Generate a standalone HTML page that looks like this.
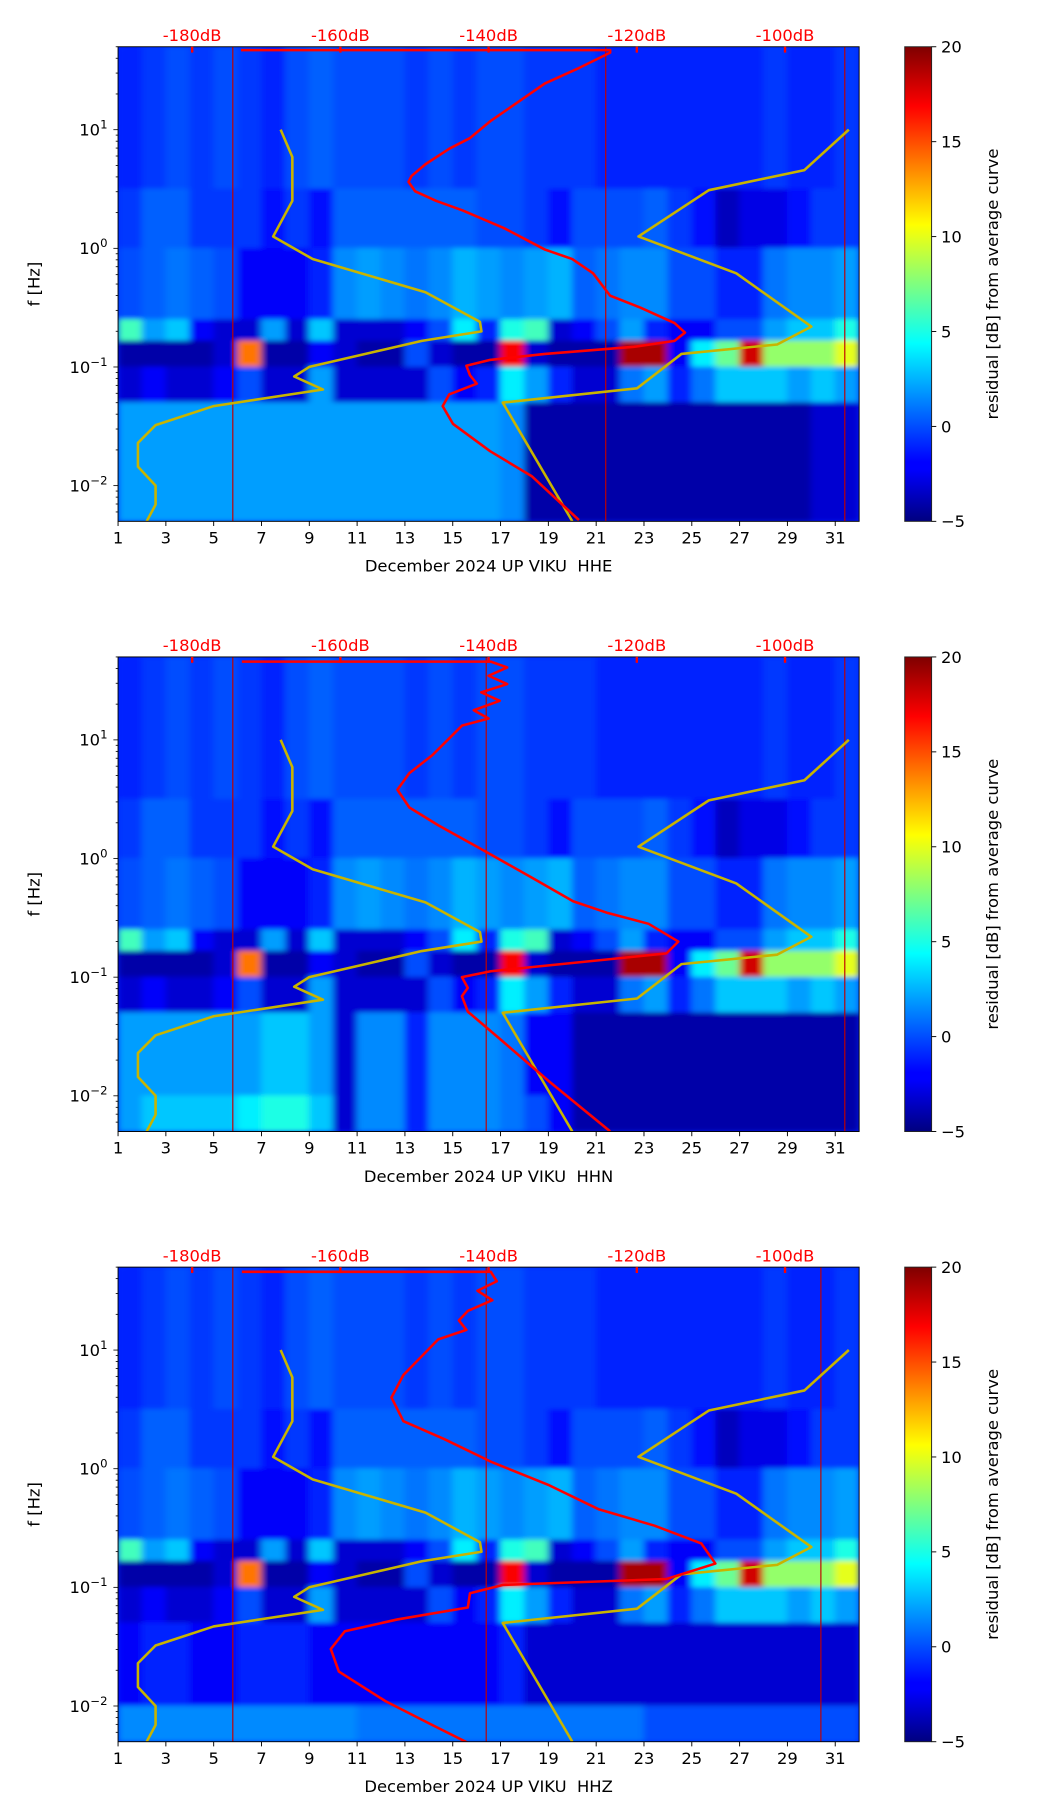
<!DOCTYPE html>
<html><head><meta charset="utf-8"><style>
html,body{margin:0;padding:0;background:#fff}
svg{display:block}
text{font-family:"DejaVu Sans","Liberation Sans",sans-serif}
</style></head><body>
<svg id="fig" xmlns="http://www.w3.org/2000/svg" width="1052" height="1806" viewBox="0 0 900 1545" preserveAspectRatio="none">
<defs>
<linearGradient id="jet" x1="0" y1="1" x2="0" y2="0">
<stop offset="0" stop-color="#00007f"/><stop offset="0.11" stop-color="#0000ff"/><stop offset="0.125" stop-color="#0000ff"/>
<stop offset="0.375" stop-color="#00ffff"/><stop offset="0.5" stop-color="#7fff7f"/><stop offset="0.625" stop-color="#ffff00"/>
<stop offset="0.875" stop-color="#ff0000"/><stop offset="1" stop-color="#7f0000"/>
</linearGradient>
<filter id="blur" x="-5%" y="-5%" width="110%" height="110%"><feGaussianBlur stdDeviation="3 2"/></filter>
</defs>
</svg>
<script>
// ---- data ----
const days = [1,3,5,7,9,11,13,15,17,19,21,23,25,27,29,31];
const dbTicks = [-180,-160,-140,-120,-100];
const cbTicks = [-5,0,5,10,15,20];
const yTickExp = [1,0,-1,-2];
const bandEdges = [1.699,0.5,0,-0.6,-0.78,-1.0,-1.3,-2.0,-2.301];
const stations = ["HHE","HHN","HHZ"];
const band0 = [-1,-0.5,0,-0.5,0,-0.5,-1,0,0.5,0,0,0,-0.5,0,-0.5,0,0,-0.5,-0.5,-0.5,-1,-1,-1,-1,-1,-1,-1,-0.5,-1,-1,-0.5];
const band1 = [-0.5,0.5,0.5,-0.5,-0.5,-0.5,-1.5,-0.5,-1.5,0.5,0.5,0.5,0.5,0.5,0.5,0,0,-0.5,-1.5,0,0,0,0.5,-0.5,-1.5,-3.5,-2.5,-2.5,-1.5,-0.5,-0.5];
const band2 = [0,0.5,1,0.5,0,-2,-2,-2,-1,1.5,2,1.5,1,1.5,2.5,2,1.5,2,2.5,0.5,1,1.5,1.5,0,0,-1,-1,1,1.5,1.5,2];
const band3 = [6,2,3,-2,-3,-3,2,-3,3,-3,-3,-3,-2,0,4,-1,5,6,-3,-2,0,2,-1,-2,-2,0,0,2,3,3,5];
const band4 = [-4,-4,-4,-4,-3,14,-4,-4,-2,-3,-4,-4,0,-3,-4,-4,17,-3,-4,-4,-4,19,19,-2,4,7,18,8,8,8,10];
const band5 = [-3,-2,-3,-3,-2,0,-3,-3,2,-3,-3,-3,-3,0,-2,-1,4,2,-1,-3,-3,1,2,-1,1,3,3,3,2,3,2];
const p1band6 = [2,2,2,2,2,2,2,2,2,2,2,2,2,2,2,2,1.5,-4,-4,-4,-4,-4,-4,-4,-4,-4,-4,-4,-4,-3,-3];
const p1band7 = [2,2,2,2,2,2,2,2,2,2,2,2,2,2,2,2,1.5,-4,-4,-4,-4,-4,-4,-4,-4,-4,-4,-4,-4,-3,-3];
const p2band6 = [2,2,2,2,2,2,3,3,2,-3,1.5,1.5,-1,1.5,1.5,1.5,1,-2,-2,-4,-4,-4,-4,-4,-4,-4,-4,-4,-4,-4,-4];
const p2band7 = [2,3,3,3,3,4,5,5,3,-3,1.5,1.5,-1,1.5,1.5,1.5,1,0,-2,-4,-4,-4,-4,-4,-4,-4,-4,-4,-4,-4,-4];
const p3band6 = [-2,-1,-1,-2,-2,-1,-1,-1,-2,-2,-2,-2,-2,-2,-2,-2,-1,-3,-3,-3,-3,-3,-3,-3,-3,-3,-3,-3,-3,-3,-3];
const p3band7 = [1.5,1.5,1.5,1.5,1.5,1.5,1.5,1.5,1.5,1.5,1,1,1,1,1,1,1,1,1,1,1,1,0,0,0,0,0,0,0,0,0];
// yellow curve (day, log10 f)
const yelLeftDay = [2.2,2.57,2.57,1.83,1.83,2.57,5.0,9.57,8.37,9.0,13.71,16.2,16.14,13.86,9.14,7.49,8.29,8.29,7.8];
const yelLeftLf  = [-2.3,-2.16,-2.0,-1.84,-1.64,-1.49,-1.33,-1.19,-1.08,-1.0,-0.78,-0.7,-0.62,-0.37,-0.09,0.1,0.4,0.77,1.0];
const yelRightDay = [20.0,17.09,22.71,24.57,28.57,30.0,26.86,22.77,25.71,29.71,31.57];
const yelRightLf  = [-2.3,-1.3,-1.18,-0.89,-0.81,-0.66,-0.21,0.1,0.49,0.66,1.0];
// red curves (dB, log10 f)
const red1Db = [-173.4,-123.6,-123.6,-127.8,-132.4,-136.1,-139.8,-142.5,-145.3,-148.5,-150.4,-150.8,-149.9,-147.1,-143.5,-137.9,-132.4,-128.7,-125.9,-123.6,-119.5,-114.9,-113.5,-114.9,-120.4,-132.4,-139.8,-143.0,-142.5,-141.6,-145.3,-146.2,-144.8,-139.8,-134.2,-127.8];
const red1Lf = [1.67,1.67,1.65,1.52,1.39,1.23,1.07,0.93,0.84,0.71,0.61,0.56,0.48,0.4,0.32,0.17,-0.01,-0.09,-0.21,-0.4,-0.5,-0.63,-0.71,-0.78,-0.83,-0.89,-0.94,-0.99,-1.07,-1.14,-1.23,-1.33,-1.48,-1.71,-1.92,-2.29];
const red2Db = [-173.3,-139.7,-137.5,-140,-137.5,-141,-138.5,-142,-140,-143.6,-147.6,-150.7,-152.3,-150.7,-146.8,-141.3,-134.2,-128.6,-123.9,-118.4,-114.4,-116.0,-123.9,-139.7,-143.6,-142.8,-143.6,-142.8,-138.1,-131.8,-123.6];
const red2Lf = [1.66,1.66,1.61,1.54,1.47,1.40,1.33,1.25,1.18,1.12,0.87,0.72,0.58,0.43,0.28,0.09,-0.16,-0.36,-0.46,-0.55,-0.70,-0.80,-0.85,-0.95,-1.0,-1.09,-1.16,-1.29,-1.54,-1.88,-2.3];
const red3Db = [-173.3,-139.7,-138.9,-141.5,-139.5,-142.8,-144,-143,-146.8,-151.5,-153.1,-151.5,-146.0,-139.7,-131.8,-125.2,-117.6,-111.3,-109.4,-116.0,-138.1,-142.5,-142.8,-152.3,-159.4,-161.3,-160.2,-153.9,-147.6,-142.8];
const red3Lf = [1.66,1.66,1.58,1.5,1.42,1.33,1.25,1.17,1.09,0.79,0.6,0.4,0.25,0.06,-0.14,-0.34,-0.48,-0.63,-0.8,-0.93,-0.98,-1.05,-1.17,-1.27,-1.37,-1.52,-1.71,-1.96,-2.16,-2.31];
const redLineDays = [[5.8,21.4,31.4],[5.8,16.4,31.4],[5.8,16.4,30.4]];

// ---- drawing ----
const NS="http://www.w3.org/2000/svg";
const svg=document.getElementById('fig');
const X0=101, X1=735, H=406, tops=[40,562,1084];
const xDay=d=>X0+(d-1)/31*(X1-X0);
const xDb=db=>X0+(db+190)/100*(X1-X0);
const yF=(top,lf)=>top+(1.699-lf)/4*H;
function jet(v){const t=Math.max(0,Math.min(1,(v+5)/25));const c=x=>Math.round(255*Math.max(0,Math.min(1,1.5-Math.abs(4*t-x))));return `rgb(${c(3)},${c(2)},${c(1)})`;}
function mk(tag,attrs,parent){const e=document.createElementNS(NS,tag);for(const k in attrs)e.setAttribute(k,attrs[k]);(parent||svg).appendChild(e);return e;}
function txt(x,y,s,attrs,parent){const t=mk('text',Object.assign({x:x,y:y,'font-size':14},attrs||{}),parent);t.textContent=s;return t;}

const panelBands=[
 [band0,band1,band2,band3,band4,band5,p1band6,p1band7],
 [band0,band1,band2,band3,band4,band5,p2band6,p2band7],
 [band0,band1,band2,band3,band4,band5,p3band6,p3band7]];
const reds=[[red1Db,red1Lf],[red2Db,red2Lf],[red3Db,red3Lf]];

tops.forEach((top,p)=>{
  const g=mk('g',{});
  
  
  const cid='clip'+p;
  const cp=mk('clipPath',{id:cid},g);mk('rect',{x:X0,y:top,width:X1-X0,height:H},cp);
  const hm=mk('g',{'clip-path':`url(#${cid})`},g);
  mk('rect',{x:X0,y:top,width:X1-X0,height:H,fill:jet(-1)},hm);
  const hb=mk('g',{filter:'url(#blur)'},hm);
  
  
  panelBands[p].forEach((row,b)=>{
    const ya=yF(top,bandEdges[b]), yb=yF(top,bandEdges[b+1]);
    row.forEach((v,d)=>{
      const r=mk('rect',{x:xDay(d+1)-0.3,y:ya-0.3,width:xDay(d+2)-xDay(d+1)+0.6,height:yb-ya+0.6,fill:jet(v)},hb);
      
      
    });
  });
  redLineDays[p].forEach(d=>{
    const l=mk('line',{x1:xDay(d),x2:xDay(d),y1:top,y2:top+H,stroke:'#c00000','stroke-width':1},hm);
    
    
  });
  [[yelLeftDay,yelLeftLf],[yelRightDay,yelRightLf]].forEach(([ds,ls],k)=>{
    const pts=ds.map((d,i)=>xDay(d).toFixed(1)+','+yF(top,ls[i]).toFixed(1)).join(' ');
    const pl=mk('polyline',{points:pts,fill:'none',stroke:'#c8b400','stroke-width':2.2,'stroke-linejoin':'round'},hm);
    
    
  });
  const [rd,rl]=reds[p];
  const rp=mk('polyline',{points:rd.map((v,i)=>xDb(v).toFixed(1)+','+yF(top,rl[i]).toFixed(1)).join(' '),fill:'none',stroke:'#ff0000','stroke-width':2.2,'stroke-linejoin':'round'},hm);
  
  
  mk('rect',{x:X0,y:top,width:X1-X0,height:H,fill:'none',stroke:'#000','stroke-width':0.8},g);
  days.forEach(d=>{
    const x=xDay(d);
    mk('line',{x1:x,x2:x,y1:top+H,y2:top+H+4,stroke:'#000','stroke-width':0.8},g);
    const t=txt(x,top+H+19,String(d),{'text-anchor':'middle'},g);
    
    
  });
  const xl=txt((X0+X1)/2,top+H+43,'December 2024 UP VIKU\u00a0\u00a0'+stations[p],{'text-anchor':'middle'},g);
  
  
  dbTicks.forEach(db=>{
    const x=xDb(db);
    mk('line',{x1:x,x2:x,y1:top,y2:top+5,stroke:'#ff0000','stroke-width':2},g);
    const t=txt(x,top-5,db+'dB',{'text-anchor':'middle',fill:'#ff0000'},g);
    
    
  });
  for(let e=-3;e<=1;e++){for(let m=1;m<10;m++){const lf=e+Math.log10(m);if(lf<-2.301||lf>1.699)continue;const y=yF(top,lf);mk('line',{x1:X0-(m===1?4:2),x2:X0,y1:y,y2:y,stroke:'#000','stroke-width':0.7},g);}}
  yTickExp.forEach(e=>{
    const y=yF(top,e);
    const t=mk('text',{x:92,y:y+5,'font-size':14,'text-anchor':'end'},g);
    
    
    const a=mk('tspan',{},t);a.textContent='10';
    const b=mk('tspan',{dy:-6,'font-size':10},t);b.textContent=(e<0?'\u2212':'')+Math.abs(e);
  });
  const yl=txt(0,0,'f [Hz]',{'text-anchor':'middle',transform:`translate(34,${top+H/2}) rotate(-90)`},g);
  
  
  const cb=mk('g',{},g);
  
  
  mk('rect',{x:774,y:top,width:23,height:H,fill:'url(#jet)',stroke:'#222','stroke-width':0.8},cb);
  cbTicks.forEach(v=>{
    const y=top+H-(v+5)/25*H;
    mk('line',{x1:797,x2:801,y1:y,y2:y,stroke:'#000','stroke-width':0.8},cb);
    const t=txt(805,y+5,(v<0?'\u2212':'')+Math.abs(v),{},cb);
    
    
  });
  const cl=txt(0,0,'residual [dB] from average curve',{'text-anchor':'middle',transform:`translate(854,${top+H/2}) rotate(-90)`},cb);
  
  
});
</script>
</body></html>
